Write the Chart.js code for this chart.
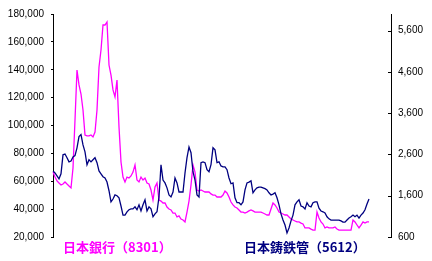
<!DOCTYPE html>
<html>
<head>
<meta charset="utf-8">
<script src="https://cdn.jsdelivr.net/npm/chart.js@4.4.0/dist/chart.umd.min.js"></script>
<style>
  html, body { margin: 0; padding: 0; background: #fff; }
  #wrap { position: relative; width: 432px; height: 261px; }
  .seriesLabel {
    position: absolute;
    top: 239px;
    font-family: "Noto Sans CJK JP", sans-serif;
    font-weight: bold;
    font-size: 13px;
    line-height: 16px;
    white-space: nowrap;
  }
</style>
</head>
<body>
<div id="wrap">
  <canvas id="stockChart" width="432" height="261"></canvas>
  <div class="seriesLabel" style="left:63px;color:#ff00ff">日本銀行（8301）</div>
  <div class="seriesLabel" style="left:244px;color:#000080">日本鋳鉄管（5612）</div>
</div>
<script>
// weekly points, the axis runs a bit past the last one
const weeks = Array.from({ length: 170 }, (_, i) => i + 1);

// 日本銀行(8301), left axis
const bojPrices = [
  66600, 63000, 60200, 58700, 57300, 58000, 59500, 58000, 56600, 55200,
  69500, 103900, 139800, 129100, 122600, 111100, 93200, 92500, 92500, 93200,
  91800, 95300, 111100, 142000, 154200, 172100, 172100, 174300, 143400, 136200,
  125500, 120500, 132600, 98900, 73800, 63000, 59500, 63000, 62300, 63800,
  66600, 71700, 60900, 59500, 63000, 60900, 62300, 58700, 58000, 53700,
  46500, 55900, 58700, 46500, 45800, 44400, 44400, 41500, 40100, 39400,
  37200, 37200, 34400, 35100, 32900, 32200, 30800, 37900, 45800, 57300,
  71700, 66600, 53700, 53000, 53700, 53000, 52300, 52300, 52300, 50900,
  50100, 50100, 48700, 48700, 48700, 50100, 53000, 51600, 48700, 45100,
  43000, 41500, 40800, 39400, 37900, 37900, 37200, 37900, 38700, 39400,
  38700, 37900, 37900, 37900, 37900, 37200, 36500, 35800, 35800, 40100,
  44400, 43000, 40800, 37900, 37200, 36500, 35800, 35800, 34400, 32900,
  32200, 31500, 30800, 30800, 30000, 29300, 26500, 26500, 26500, 25700,
  25000, 25000, 37900, 33600, 30800, 29300, 26500, 27200, 26500, 26500,
  26500, 27200, 25700, 25000, 25000, 25000, 25000, 25000, 25000, 25000,
  32200, 30800, 28600, 26500, 28600, 30800, 30000, 30800, 30800
];

// 日本鋳鉄管(5612), right axis
const pipePrices = [
  2200, 2150, 2080, 2010, 2130, 2590, 2610, 2520, 2420, 2440,
  2540, 2570, 2760, 3030, 3080, 2830, 2660, 2350, 2470, 2420,
  2470, 2520, 2400, 2200, 2130, 2060, 2030, 1930, 1720, 1450,
  1520, 1620, 1600, 1550, 1350, 1130, 1130, 1210, 1260, 1280,
  1280, 1330, 1260, 1380, 1230, 1380, 1500, 1230, 1330, 1280,
  1090, 1160, 1210, 1570, 2350, 1980, 1910, 1790, 1620, 1570,
  1690, 2030, 1910, 1690, 1690, 1690, 2150, 2520, 2780, 2640,
  2180, 1980, 1620, 1570, 2400, 2420, 2400, 2230, 2180, 2350,
  2760, 2710, 2400, 2420, 2320, 2300, 2300, 2230, 2030, 1890,
  1910, 1550, 1430, 1430, 1380, 1450, 1740, 1910, 1930, 1960,
  1670, 1740, 1790, 1810, 1810, 1790, 1770, 1740, 1670, 1620,
  1640, 1670, 1550, 1380, 1160, 1010, 890, 700, 820, 990,
  1130, 1380, 1450, 1500, 1350, 1330, 1280, 1430, 1350, 1330,
  1430, 1450, 1450, 1300, 1230, 1210, 1180, 1090, 1040, 1010,
  1010, 1010, 1010, 1010, 990, 960, 960, 1010, 1060, 1090,
  1130, 1090, 1130, 1060, 1130, 1180, 1260, 1400, 1520
];

const leftTicks = [20000, 40000, 60000, 80000, 100000, 120000, 140000, 160000, 180000];
const rightTicks = [600, 1600, 2600, 3600, 4600, 5600];

// right axis has its little tick marks pointing into the plot
const innerTicks = {
  id: 'innerTicks',
  afterDraw(chart) {
    const { ctx, chartArea } = chart;
    const yR = chart.scales.yR;
    ctx.save();
    ctx.strokeStyle = '#000';
    ctx.lineWidth = 1;
    yR.ticks.forEach(t => {
      const y = Math.round(yR.getPixelForValue(t.value)) + 0.5;
      ctx.beginPath();
      ctx.moveTo(chartArea.right - 3, y);
      ctx.lineTo(chartArea.right, y);
      ctx.stroke();
    });
    ctx.restore();
  }
};

const tickFont = { family: '"Liberation Sans", Arial, sans-serif', size: 10 };

new Chart(document.getElementById('stockChart'), {
  type: 'line',
  data: {
    labels: weeks,
    datasets: [
      {
        label: '日本鋳鉄管(5612)',
        data: pipePrices,
        yAxisID: 'yR',
        borderColor: '#000080',
        borderWidth: 1.3,
        pointRadius: 0,
        tension: 0,
        order: 0
      },
      {
        label: '日本銀行(8301)',
        data: bojPrices,
        yAxisID: 'yL',
        borderColor: '#ff00ff',
        borderWidth: 1.3,
        pointRadius: 0,
        tension: 0,
        order: 1
      }
    ]
  },
  options: {
    responsive: false,
    devicePixelRatio: 1,
    animation: false,
    layout: { padding: { top: 14, bottom: 24, left: 0, right: 0 } },
    plugins: { legend: { display: false }, tooltip: { enabled: false } },
    scales: {
      x: { display: false, offset: false },
      yL: {
        position: 'left',
        min: 20000,
        max: 180000,
        afterBuildTicks: s => { s.ticks = leftTicks.map(v => ({ value: v })); },
        afterFit: s => { s.width = 53; },
        grid: { drawOnChartArea: false, tickLength: 2, color: '#000' },
        border: { color: '#000', width: 1 },
        ticks: {
          padding: 7,
          color: '#000',
          font: tickFont,
          callback: v => v.toLocaleString('en-US')
        }
      },
      yR: {
        position: 'right',
        min: 600,
        max: 6000,
        afterBuildTicks: s => { s.ticks = rightTicks.map(v => ({ value: v })); },
        afterFit: s => { s.width = 41; },
        grid: { drawOnChartArea: false, drawTicks: false },
        border: { color: '#000', width: 1 },
        ticks: {
          padding: 7,
          color: '#000',
          font: tickFont,
          callback: v => v.toLocaleString('en-US')
        }
      }
    }
  },
  plugins: [innerTicks]
});
</script>
</body>
</html>
